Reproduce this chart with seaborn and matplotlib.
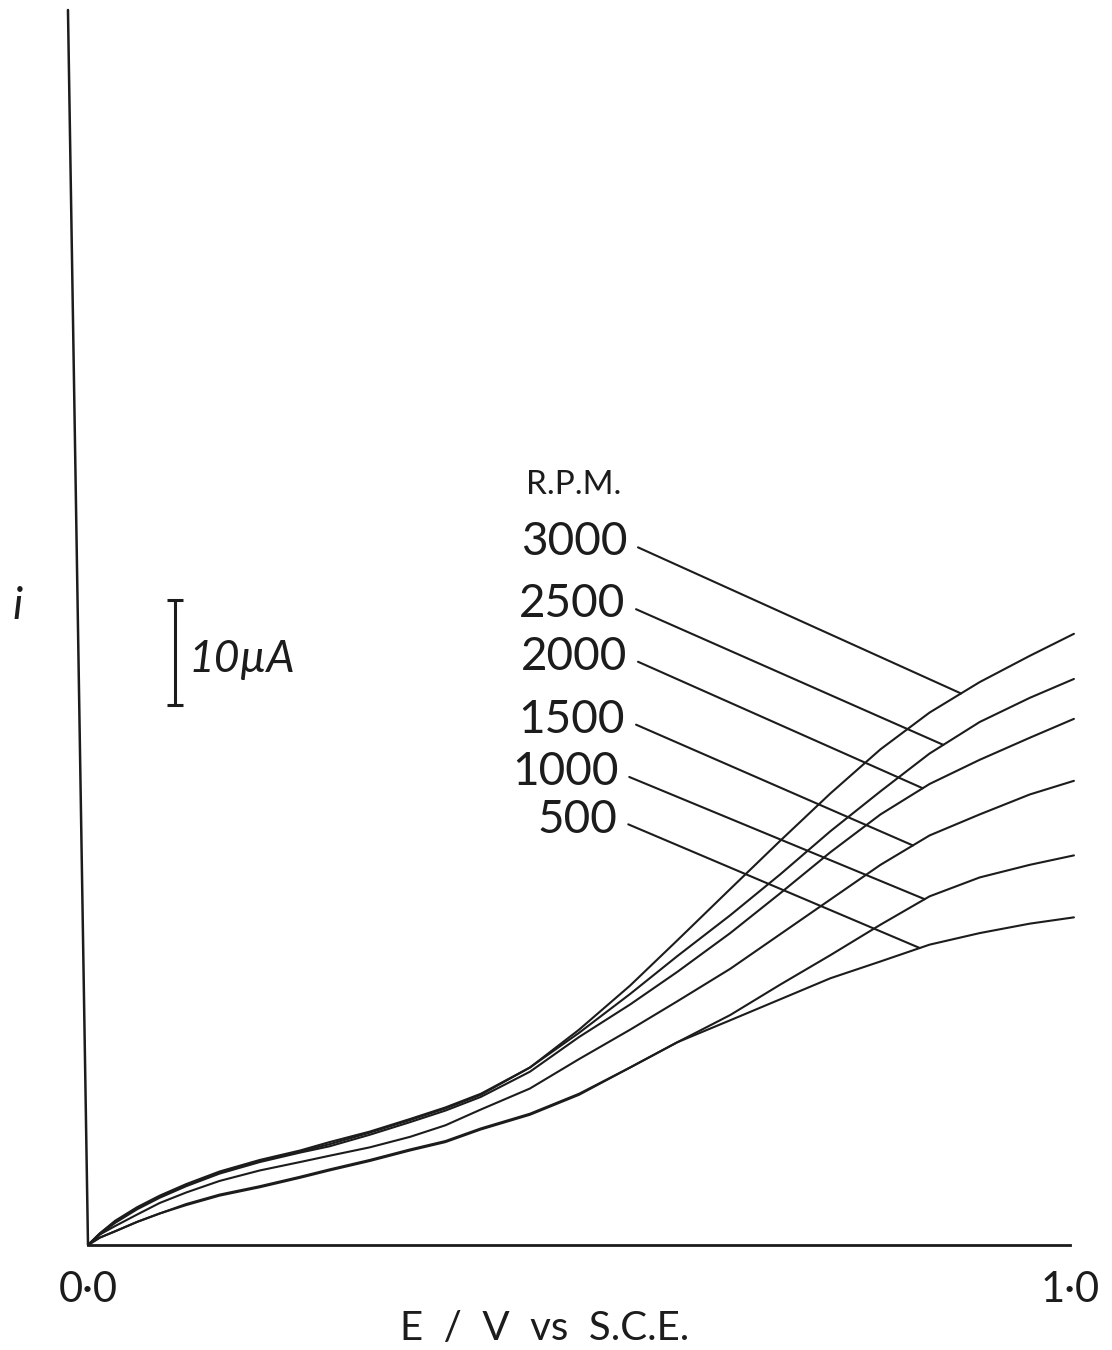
import numpy as np
import pandas as pd
import matplotlib
matplotlib.use("Agg")
import matplotlib.pyplot as plt
import seaborn as sns

# potential E / V vs S.C.E. (shared grid for all curves)
E = [0, 0.012, 0.0275, 0.05, 0.073, 0.10, 0.134, 0.175, 0.216, 0.246,
     0.287, 0.328, 0.364, 0.40, 0.45, 0.50, 0.552, 0.60, 0.654, 0.705,
     0.756, 0.807, 0.857, 0.908, 0.959, 1.004]

# current in microamps for each rotation rate
i_3000 = [0, 1.1, 2.3, 3.6, 4.7, 5.8, 7.0, 8.1, 9.0, 9.8,
          10.8, 12.0, 13.1, 14.4, 16.9, 20.5, 24.7, 29.0, 33.9, 38.5,
          43.0, 47.2, 50.7, 53.6, 56.1, 58.2]
i_2500 = [0, 1.1, 2.2, 3.5, 4.6, 5.7, 6.9, 8.0, 8.9, 9.6,
          10.7, 11.9, 13.0, 14.3, 16.9, 20.2, 23.9, 27.5, 31.4, 35.3,
          39.4, 43.2, 46.8, 49.8, 52.1, 53.9]
i_2000 = [0, 1.0, 2.1, 3.4, 4.5, 5.6, 6.8, 7.9, 8.8, 9.4,
          10.5, 11.7, 12.8, 14.1, 16.5, 19.8, 22.9, 26.0, 29.7, 33.5,
          37.4, 41.0, 43.9, 46.2, 48.3, 50.1]
i_1500 = [0, 1.0, 1.8, 2.9, 4.0, 5.0, 6.1, 7.1, 7.9, 8.5,
          9.3, 10.3, 11.4, 12.9, 14.9, 17.7, 20.5, 23.2, 26.3, 29.6,
          32.9, 36.2, 39.0, 41.0, 42.9, 44.2]
i_1000 = [0, 0.7, 1.3, 2.2, 3.0, 3.9, 4.8, 5.6, 6.5, 7.2,
          8.1, 9.1, 9.9, 11.1, 12.5, 14.4, 16.9, 19.3, 21.9, 24.8,
          27.6, 30.5, 33.2, 35.0, 36.2, 37.1]
i_500 = [0, 0.7, 1.3, 2.2, 3.0, 3.8, 4.7, 5.5, 6.4, 7.1,
         8.0, 9.0, 9.8, 11.0, 12.4, 14.3, 16.9, 19.3, 21.4, 23.4,
         25.4, 27.0, 28.6, 29.7, 30.6, 31.2]

rpm_labels = ["3000", "2500", "2000", "1500", "1000", "500"]
series = [i_3000, i_2500, i_2000, i_1500, i_1000, i_500]

# where each leader line touches its curve (E) and where the label sits
leader_E = [0.889, 0.871, 0.850, 0.840, 0.852, 0.847]
label_x = [0.549, 0.547, 0.549, 0.547, 0.540, 0.539]
label_y = [66.9, 61.0, 56.0, 50.0, 45.0, 40.5]

rows = []
for lab, vals in zip(rpm_labels, series):
    for e, v in zip(E, vals):
        rows.append({"E": e, "i": v, "rpm": lab})
df = pd.DataFrame(rows)

sns.set_style("white")
ink = "#1c1c1c"
plt.rcParams["font.family"] = ["Lato", "DejaVu Sans"]

fig = plt.figure(figsize=(11.12, 13.5), dpi=100)
ax = fig.add_axes([88 / 1112, 105 / 1350, 982 / 1112, 1235 / 1350])

sns.lineplot(data=df, x="E", y="i", hue="rpm", palette=[ink] * 6,
             estimator=None, sort=True, legend=False, linewidth=1.5, ax=ax)
for ln in ax.lines:
    ln.set_clip_on(False)

ax.set_xlim(0, 1.0)
ax.set_ylim(0, 117.6)

# axes drawn like the hand-drawn original
for s in ["top", "right", "left"]:
    ax.spines[s].set_visible(False)
ax.spines["bottom"].set_linewidth(2)
ax.spines["bottom"].set_color(ink)
ax.plot([0, -0.0204], [0, 117.6], color=ink, lw=1.8, clip_on=False)

ax.set_yticks([])
ax.set_xticks([0, 1.0])
ax.set_xticklabels(["0·0", "1·0"])
ax.tick_params(axis="x", direction="in", length=9, width=1.5, color=ink,
               labelsize=30, pad=19, labelcolor=ink)

ax.set_xlabel("E  /  V  vs  S.C.E.", fontsize=29, color=ink)
ax.xaxis.set_label_coords(0.465, -0.053)
ax.set_ylabel("i", fontsize=32, rotation=0, style="italic", color=ink)
ax.yaxis.set_label_coords(-0.072, 0.50)

# 10 uA scale bar
ax.errorbar([0.0886], [56.4], yerr=[5.0], fmt="none", ecolor=ink,
            elinewidth=2.2, capsize=6, capthick=2.2)
ax.text(0.1025, 55.8, "10µA", fontsize=32, style="italic", color=ink,
        ha="left", va="center")

ax.text(0.495, 72.4, "R.P.M.", fontsize=24, color=ink, ha="center", va="center")

for lab, vals, le, tx, ty in zip(rpm_labels, series, leader_E, label_x, label_y):
    yy = np.interp(le, E, vals)
    ax.annotate(lab, xy=(le, yy), xytext=(tx, ty), textcoords="data",
                fontsize=33, color=ink, ha="right", va="center",
                arrowprops=dict(arrowstyle="-", lw=1.5, color=ink,
                                shrinkA=6, shrinkB=0, relpos=(1, 0.5)))

fig.savefig("out.png", dpi=100, facecolor="white")
